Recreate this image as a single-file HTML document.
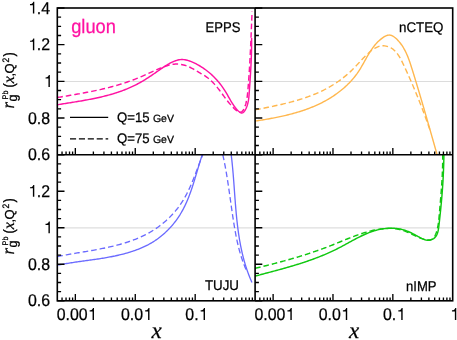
<!DOCTYPE html>
<html><head><meta charset="utf-8"><title>gluon nuclear modification</title>
<style>html,body{margin:0;padding:0;background:#fff;}body{width:457px;height:340px;overflow:hidden;font-family:"Liberation Sans",sans-serif;}svg{display:block;will-change:transform;text-rendering:geometricPrecision;}</style>
</head><body>
<svg width="457" height="340" viewBox="0 0 457 340">
<rect width="457" height="340" fill="#fff"/>
<defs>
<clipPath id="c0"><rect x="57.30" y="8.00" width="395.40" height="146.70"/></clipPath>
<clipPath id="c1"><rect x="57.30" y="154.70" width="395.40" height="146.10"/></clipPath>
</defs>
<g stroke="#dcdcdc" stroke-width="1" fill="none">
<path d="M57.30 81.50 H452.70"/>
<path d="M57.30 227.85 H452.70" stroke-width="1.3" stroke="#dedede"/>
</g>
<path clip-path="url(#c0)" d="M57.30 104.79 L58.48 104.60 L59.67 104.40 L60.86 104.21 L62.05 104.02 L63.24 103.83 L64.43 103.64 L65.62 103.45 L66.81 103.26 L68.00 103.07 L69.19 102.88 L70.39 102.68 L71.58 102.49 L72.77 102.30 L73.97 102.11 L75.16 101.91 L76.35 101.72 L77.55 101.52 L78.74 101.32 L79.94 101.12 L81.13 100.92 L82.32 100.71 L83.51 100.50 L84.70 100.29 L85.90 100.08 L87.09 99.86 L88.27 99.64 L89.46 99.41 L90.65 99.18 L91.84 98.95 L93.02 98.71 L94.20 98.47 L95.39 98.23 L96.57 97.98 L97.75 97.72 L98.93 97.46 L100.10 97.19 L101.28 96.92 L102.45 96.64 L103.62 96.36 L104.79 96.07 L105.95 95.77 L107.12 95.47 L108.28 95.16 L109.44 94.84 L110.60 94.51 L111.75 94.18 L112.90 93.84 L114.05 93.49 L115.20 93.14 L116.34 92.77 L117.48 92.40 L118.62 92.02 L119.76 91.63 L120.89 91.23 L122.02 90.82 L123.14 90.40 L124.26 89.97 L125.38 89.54 L126.50 89.09 L127.61 88.63 L128.71 88.16 L129.82 87.68 L130.92 87.19 L132.01 86.69 L133.10 86.18 L134.19 85.65 L135.27 85.12 L136.35 84.57 L137.42 84.01 L138.49 83.43 L139.56 82.85 L140.62 82.25 L141.67 81.65 L142.73 81.03 L143.77 80.40 L144.81 79.77 L145.85 79.12 L146.88 78.47 L147.91 77.81 L148.93 77.15 L149.95 76.48 L150.97 75.80 L151.98 75.13 L152.98 74.45 L153.98 73.76 L154.98 73.08 L155.97 72.39 L156.96 71.71 L157.94 71.02 L158.92 70.33 L159.89 69.65 L160.87 68.97 L161.85 68.30 L162.83 67.63 L163.82 66.97 L164.81 66.31 L165.82 65.67 L166.85 65.04 L167.88 64.41 L168.94 63.80 L170.01 63.21 L171.10 62.64 L172.20 62.10 L173.32 61.60 L174.45 61.13 L175.59 60.72 L176.74 60.35 L177.89 60.05 L179.05 59.81 L180.22 59.65 L181.39 59.56 L182.56 59.55 L183.73 59.62 L184.91 59.77 L186.07 59.98 L187.24 60.25 L188.40 60.58 L189.56 60.96 L190.71 61.39 L191.85 61.85 L192.98 62.35 L194.10 62.87 L195.21 63.41 L196.30 63.97 L197.38 64.55 L198.45 65.14 L199.51 65.75 L200.56 66.38 L201.59 67.03 L202.61 67.69 L203.61 68.36 L204.60 69.06 L205.58 69.77 L206.55 70.49 L207.50 71.23 L208.44 71.98 L209.37 72.75 L210.28 73.54 L211.18 74.33 L212.06 75.14 L212.94 75.97 L213.79 76.81 L214.64 77.66 L215.47 78.52 L216.29 79.40 L217.09 80.29 L217.88 81.19 L218.66 82.11 L219.42 83.03 L220.17 83.97 L220.90 84.92 L221.62 85.88 L222.33 86.85 L223.02 87.83 L223.69 88.82 L224.36 89.82 L225.01 90.84 L225.64 91.86 L226.26 92.89 L226.87 93.93 L227.47 94.97 L228.06 96.03 L228.65 97.08 L229.25 98.14 L229.84 99.19 L230.45 100.25 L231.07 101.30 L231.70 102.35 L232.36 103.40 L233.03 104.43 L233.73 105.46 L234.46 106.48 L235.21 107.48 L236.01 108.47 L236.84 109.45 L237.71 110.41 L238.62 111.30 L239.54 112.06 L240.45 112.63 L241.35 112.94 L242.22 112.92 L243.03 112.57 L243.80 111.94 L244.52 111.10 L245.18 110.09 L245.78 108.98 L246.32 107.83 L246.79 106.66 L247.20 105.48 L247.56 104.30 L247.87 103.11 L248.14 101.91 L248.37 100.71 L248.56 99.50 L248.72 98.30 L248.86 97.08 L248.97 95.87 L249.08 94.66 L249.17 93.44 L249.26 92.23 L249.34 91.02 L249.43 89.80 L249.51 88.59 L249.60 87.39 L249.68 86.18 L249.77 84.97 L249.85 83.77 L249.93 82.56 L250.01 81.36 L250.09 80.15 L250.17 78.95 L250.25 77.75 L250.33 76.55 L250.40 75.35 L250.48 74.15 L250.55 72.95 L250.62 71.75 L250.69 70.55 L250.76 69.35 L250.82 68.15 L250.89 66.95 L250.95 65.75 L251.01 64.55 L251.06 63.35 L251.12 62.15 L251.17 60.95 L251.22 59.75 L251.27 58.55 L251.31 57.35 L251.36 56.15 L251.40 54.94 L251.43 53.74 L251.47 52.54 L251.50 51.33 L251.52 50.12 L251.55 48.92 L251.57 47.71 L251.58 46.50 L251.60 45.29 L251.61 44.08 L251.61 42.87 L251.62 41.65 L251.61 40.44 L251.61 39.22 L251.60 38.00" fill="none" stroke="#ff12a2" stroke-width="1.45" stroke-linejoin="round"/>
<path clip-path="url(#c0)" d="M57.30 97.50 L58.49 97.30 L59.68 97.10 L60.87 96.91 L62.06 96.71 L63.25 96.52 L64.44 96.32 L65.63 96.12 L66.82 95.92 L68.01 95.72 L69.20 95.52 L70.39 95.32 L71.58 95.12 L72.77 94.91 L73.96 94.71 L75.16 94.50 L76.35 94.29 L77.54 94.08 L78.73 93.87 L79.92 93.65 L81.11 93.44 L82.30 93.22 L83.49 93.00 L84.68 92.78 L85.87 92.55 L87.05 92.32 L88.24 92.09 L89.43 91.86 L90.61 91.62 L91.80 91.38 L92.98 91.14 L94.17 90.89 L95.35 90.64 L96.53 90.39 L97.71 90.13 L98.89 89.87 L100.07 89.60 L101.25 89.34 L102.42 89.06 L103.60 88.79 L104.77 88.50 L105.94 88.22 L107.12 87.93 L108.28 87.63 L109.45 87.33 L110.62 87.03 L111.78 86.72 L112.95 86.40 L114.11 86.08 L115.27 85.76 L116.43 85.43 L117.58 85.09 L118.74 84.75 L119.89 84.40 L121.04 84.05 L122.19 83.69 L123.34 83.32 L124.48 82.95 L125.63 82.57 L126.77 82.19 L127.91 81.80 L129.04 81.40 L130.17 80.99 L131.31 80.58 L132.43 80.16 L133.56 79.74 L134.68 79.31 L135.81 78.86 L136.92 78.42 L138.04 77.96 L139.15 77.50 L140.27 77.03 L141.37 76.55 L142.48 76.07 L143.59 75.58 L144.69 75.09 L145.80 74.60 L146.90 74.11 L148.00 73.61 L149.11 73.11 L150.21 72.61 L151.32 72.12 L152.43 71.62 L153.53 71.13 L154.65 70.64 L155.76 70.16 L156.88 69.68 L158.00 69.20 L159.12 68.73 L160.25 68.27 L161.38 67.82 L162.51 67.38 L163.65 66.94 L164.80 66.52 L165.95 66.12 L167.10 65.73 L168.26 65.38 L169.43 65.05 L170.60 64.76 L171.77 64.52 L172.94 64.32 L174.12 64.17 L175.31 64.08 L176.49 64.04 L177.68 64.07 L178.87 64.15 L180.05 64.28 L181.24 64.46 L182.41 64.69 L183.59 64.97 L184.75 65.29 L185.90 65.66 L187.04 66.06 L188.17 66.51 L189.29 66.99 L190.39 67.51 L191.48 68.05 L192.56 68.62 L193.63 69.21 L194.70 69.81 L195.75 70.43 L196.79 71.05 L197.84 71.68 L198.87 72.31 L199.90 72.93 L200.93 73.55 L201.96 74.15 L202.99 74.75 L204.01 75.35 L205.01 75.96 L206.01 76.61 L206.99 77.29 L207.95 78.02 L208.89 78.77 L209.82 79.56 L210.73 80.38 L211.62 81.22 L212.50 82.09 L213.36 82.97 L214.20 83.88 L215.03 84.80 L215.84 85.73 L216.64 86.68 L217.42 87.63 L218.18 88.58 L218.93 89.54 L219.67 90.49 L220.38 91.44 L221.09 92.39 L221.78 93.33 L222.47 94.27 L223.15 95.20 L223.83 96.14 L224.51 97.07 L225.20 98.01 L225.90 98.94 L226.61 99.87 L227.34 100.81 L228.09 101.75 L228.86 102.70 L229.65 103.64 L230.47 104.60 L231.33 105.56 L232.22 106.52 L233.15 107.50 L234.12 108.48 L235.13 109.42 L236.15 110.29 L237.19 111.04 L238.23 111.62 L239.26 112.00 L240.26 112.13 L241.18 111.99 L242.01 111.57 L242.73 110.90 L243.37 110.04 L243.93 109.02 L244.43 107.92 L244.88 106.76 L245.28 105.59 L245.64 104.41 L245.97 103.23 L246.26 102.04 L246.52 100.85 L246.75 99.65 L246.95 98.45 L247.13 97.25 L247.29 96.04 L247.44 94.83 L247.57 93.62 L247.69 92.41 L247.80 91.20 L247.90 89.99 L248.00 88.78 L248.10 87.57 L248.20 86.36 L248.30 85.15 L248.39 83.94 L248.48 82.73 L248.57 81.52 L248.66 80.32 L248.75 79.11 L248.84 77.90 L248.92 76.69 L249.00 75.49 L249.08 74.28 L249.16 73.08 L249.24 71.87 L249.32 70.67 L249.39 69.46 L249.47 68.26 L249.54 67.06 L249.61 65.85 L249.68 64.65 L249.75 63.45 L249.82 62.24 L249.88 61.04 L249.95 59.84 L250.01 58.63 L250.08 57.43 L250.14 56.23 L250.20 55.03 L250.26 53.82 L250.32 52.62 L250.38 51.42 L250.44 50.22 L250.50 49.01 L250.55 47.81 L250.61 46.61 L250.67 45.41 L250.72 44.20 L250.77 43.00 L250.83 41.80 L250.88 40.59 L250.93 39.39 L250.99 38.19 L251.04 36.98 L251.09 35.78 L251.14 34.57 L251.19 33.37 L251.24 32.16 L251.29 30.96 L251.34 29.75 L251.39 28.54 L251.44 27.34 L251.49 26.13 L251.54 24.92 L251.59 23.71 L251.64 22.50 L251.69 21.29 L251.74 20.09 L251.79 18.87 L251.84 17.66 L251.89 16.45 L251.94 15.24 L252.00 14.03 L252.05 12.81 L252.10 11.60" fill="none" stroke="#ff12a2" stroke-width="1.45" stroke-linejoin="round" stroke-dasharray="5.6 3.0"/>
<path clip-path="url(#c0)" d="M255.10 121.10 L256.29 120.91 L257.48 120.73 L258.67 120.54 L259.86 120.35 L261.05 120.16 L262.24 119.96 L263.43 119.77 L264.62 119.57 L265.82 119.36 L267.01 119.16 L268.20 118.95 L269.39 118.73 L270.58 118.52 L271.77 118.30 L272.96 118.07 L274.15 117.84 L275.34 117.61 L276.53 117.38 L277.72 117.13 L278.90 116.89 L280.09 116.64 L281.27 116.38 L282.45 116.12 L283.63 115.85 L284.81 115.58 L285.99 115.31 L287.17 115.02 L288.34 114.73 L289.51 114.44 L290.68 114.14 L291.85 113.83 L293.01 113.51 L294.18 113.19 L295.34 112.87 L296.50 112.53 L297.65 112.19 L298.80 111.84 L299.95 111.48 L301.10 111.12 L302.25 110.74 L303.39 110.36 L304.52 109.97 L305.66 109.58 L306.79 109.17 L307.91 108.76 L309.04 108.33 L310.16 107.90 L311.27 107.46 L312.38 107.01 L313.49 106.55 L314.60 106.08 L315.70 105.60 L316.79 105.11 L317.88 104.62 L318.97 104.11 L320.05 103.59 L321.12 103.06 L322.19 102.52 L323.26 101.97 L324.32 101.40 L325.38 100.83 L326.43 100.24 L327.47 99.65 L328.51 99.04 L329.55 98.42 L330.58 97.79 L331.60 97.15 L332.62 96.49 L333.63 95.82 L334.63 95.14 L335.63 94.45 L336.62 93.75 L337.60 93.03 L338.57 92.30 L339.54 91.56 L340.50 90.81 L341.44 90.04 L342.38 89.27 L343.31 88.48 L344.23 87.68 L345.14 86.87 L346.03 86.05 L346.92 85.22 L347.79 84.37 L348.65 83.51 L349.50 82.64 L350.34 81.76 L351.16 80.87 L351.97 79.97 L352.77 79.06 L353.55 78.13 L354.32 77.19 L355.07 76.25 L355.81 75.29 L356.53 74.32 L357.24 73.34 L357.93 72.34 L358.60 71.34 L359.26 70.33 L359.91 69.31 L360.54 68.28 L361.16 67.24 L361.77 66.20 L362.38 65.15 L362.98 64.10 L363.57 63.04 L364.16 61.99 L364.75 60.93 L365.34 59.87 L365.93 58.82 L366.52 57.77 L367.12 56.72 L367.72 55.67 L368.33 54.63 L368.95 53.60 L369.57 52.58 L370.21 51.56 L370.87 50.56 L371.54 49.56 L372.22 48.58 L372.92 47.61 L373.64 46.65 L374.39 45.71 L375.15 44.78 L375.94 43.87 L376.75 42.98 L377.59 42.11 L378.46 41.26 L379.36 40.43 L380.29 39.62 L381.25 38.84 L382.25 38.08 L383.27 37.36 L384.33 36.69 L385.40 36.11 L386.48 35.63 L387.57 35.28 L388.66 35.09 L389.74 35.07 L390.80 35.25 L391.85 35.60 L392.87 36.10 L393.87 36.72 L394.85 37.45 L395.79 38.25 L396.71 39.11 L397.58 40.00 L398.43 40.91 L399.24 41.84 L400.01 42.78 L400.76 43.74 L401.47 44.72 L402.16 45.72 L402.81 46.73 L403.44 47.75 L404.05 48.79 L404.63 49.84 L405.19 50.91 L405.73 51.98 L406.24 53.07 L406.74 54.17 L407.22 55.27 L407.68 56.38 L408.13 57.51 L408.57 58.64 L408.99 59.77 L409.40 60.91 L409.79 62.06 L410.18 63.21 L410.57 64.36 L410.94 65.52 L411.31 66.68 L411.68 67.84 L412.04 69.00 L412.40 70.16 L412.76 71.32 L413.12 72.48 L413.48 73.64 L413.84 74.80 L414.20 75.96 L414.55 77.12 L414.91 78.27 L415.26 79.43 L415.61 80.59 L415.96 81.75 L416.31 82.90 L416.66 84.06 L417.01 85.22 L417.36 86.37 L417.71 87.53 L418.06 88.68 L418.40 89.84 L418.75 90.99 L419.09 92.15 L419.44 93.30 L419.78 94.46 L420.12 95.61 L420.46 96.77 L420.80 97.92 L421.15 99.08 L421.48 100.23 L421.82 101.39 L422.16 102.54 L422.50 103.69 L422.84 104.85 L423.18 106.00 L423.51 107.16 L423.85 108.31 L424.18 109.47 L424.52 110.62 L424.85 111.78 L425.19 112.93 L425.52 114.09 L425.86 115.24 L426.19 116.40 L426.52 117.55 L426.86 118.71 L427.19 119.86 L427.52 121.02 L427.85 122.17 L428.18 123.33 L428.51 124.49 L428.84 125.64 L429.18 126.80 L429.51 127.96 L429.84 129.12 L430.17 130.28 L430.50 131.43 L430.83 132.59 L431.16 133.75 L431.49 134.91 L431.82 136.07 L432.15 137.23 L432.48 138.39 L432.81 139.56 L433.14 140.72 L433.47 141.88 L433.80 143.04 L434.13 144.21 L434.46 145.37 L434.79 146.53 L435.12 147.70 L435.45 148.86 L435.78 150.03 L436.11 151.20 L436.44 152.36 L436.77 153.53 L437.10 154.70" fill="none" stroke="#ffb74e" stroke-width="1.40" stroke-linejoin="round"/>
<path clip-path="url(#c0)" d="M255.10 109.90 L256.28 109.67 L257.45 109.43 L258.63 109.20 L259.80 108.96 L260.98 108.72 L262.16 108.49 L263.34 108.25 L264.52 108.01 L265.70 107.77 L266.89 107.53 L268.07 107.29 L269.25 107.05 L270.43 106.80 L271.62 106.56 L272.80 106.31 L273.98 106.05 L275.16 105.80 L276.34 105.54 L277.53 105.28 L278.71 105.02 L279.89 104.75 L281.07 104.48 L282.24 104.21 L283.42 103.93 L284.60 103.65 L285.77 103.36 L286.95 103.07 L288.12 102.78 L289.29 102.48 L290.46 102.17 L291.63 101.86 L292.80 101.54 L293.96 101.22 L295.12 100.90 L296.28 100.56 L297.44 100.22 L298.60 99.88 L299.75 99.53 L300.90 99.17 L302.05 98.80 L303.20 98.43 L304.34 98.05 L305.48 97.66 L306.62 97.27 L307.76 96.86 L308.89 96.45 L310.02 96.03 L311.14 95.61 L312.26 95.17 L313.38 94.72 L314.49 94.27 L315.60 93.81 L316.71 93.34 L317.81 92.85 L318.91 92.36 L320.01 91.86 L321.10 91.35 L322.19 90.83 L323.27 90.30 L324.34 89.75 L325.42 89.20 L326.48 88.63 L327.55 88.06 L328.60 87.47 L329.66 86.88 L330.70 86.27 L331.74 85.65 L332.78 85.02 L333.80 84.38 L334.83 83.73 L335.84 83.07 L336.85 82.40 L337.85 81.72 L338.84 81.03 L339.82 80.33 L340.80 79.61 L341.76 78.89 L342.72 78.16 L343.67 77.42 L344.61 76.66 L345.55 75.90 L346.47 75.13 L347.38 74.34 L348.28 73.55 L349.18 72.75 L350.06 71.94 L350.93 71.12 L351.79 70.28 L352.64 69.44 L353.48 68.59 L354.31 67.74 L355.14 66.87 L355.96 66.00 L356.77 65.13 L357.59 64.25 L358.40 63.37 L359.22 62.49 L360.04 61.60 L360.86 60.72 L361.69 59.84 L362.52 58.96 L363.36 58.08 L364.22 57.21 L365.08 56.34 L365.95 55.47 L366.84 54.62 L367.75 53.77 L368.67 52.93 L369.61 52.10 L370.56 51.29 L371.54 50.51 L372.53 49.77 L373.55 49.07 L374.58 48.41 L375.63 47.81 L376.70 47.28 L377.80 46.82 L378.91 46.43 L380.04 46.13 L381.20 45.92 L382.37 45.81 L383.56 45.81 L384.75 45.89 L385.94 46.07 L387.11 46.33 L388.25 46.67 L389.35 47.08 L390.40 47.57 L391.41 48.13 L392.37 48.75 L393.28 49.43 L394.16 50.17 L394.99 50.96 L395.79 51.80 L396.55 52.68 L397.28 53.61 L397.98 54.57 L398.66 55.57 L399.31 56.60 L399.93 57.65 L400.54 58.73 L401.13 59.83 L401.70 60.94 L402.26 62.07 L402.81 63.20 L403.35 64.33 L403.89 65.47 L404.42 66.61 L404.95 67.74 L405.47 68.87 L405.99 69.99 L406.50 71.12 L407.01 72.24 L407.52 73.36 L408.03 74.48 L408.53 75.59 L409.02 76.71 L409.52 77.82 L410.01 78.93 L410.50 80.04 L410.98 81.15 L411.46 82.25 L411.94 83.36 L412.41 84.46 L412.89 85.57 L413.36 86.67 L413.82 87.77 L414.29 88.87 L414.75 89.97 L415.21 91.08 L415.66 92.18 L416.11 93.28 L416.57 94.38 L417.01 95.48 L417.46 96.58 L417.90 97.68 L418.35 98.78 L418.79 99.89 L419.22 100.99 L419.66 102.09 L420.09 103.20 L420.53 104.31 L420.96 105.41 L421.39 106.52 L421.81 107.63 L422.24 108.75 L422.66 109.86 L423.08 110.97 L423.51 112.09 L423.93 113.21 L424.34 114.33 L424.76 115.46 L425.18 116.58 L425.59 117.71 L426.01 118.84 L426.42 119.98 L426.83 121.12 L427.24 122.26 L427.65 123.40 L428.06 124.55 L428.47 125.70 L428.88 126.85 L429.29 128.01 L429.69 129.17 L430.10 130.33 L430.51 131.50" fill="none" stroke="#ffb74e" stroke-width="1.40" stroke-linejoin="round" stroke-dasharray="5.6 3.0"/>
<path clip-path="url(#c1)" d="M57.30 265.20 L58.48 264.97 L59.65 264.74 L60.83 264.52 L62.01 264.30 L63.19 264.09 L64.37 263.88 L65.56 263.68 L66.74 263.48 L67.93 263.29 L69.12 263.10 L70.31 262.91 L71.50 262.73 L72.69 262.55 L73.88 262.37 L75.07 262.20 L76.27 262.02 L77.47 261.85 L78.66 261.68 L79.86 261.52 L81.06 261.35 L82.26 261.18 L83.46 261.02 L84.66 260.85 L85.86 260.69 L87.06 260.52 L88.26 260.36 L89.46 260.19 L90.66 260.02 L91.86 259.86 L93.07 259.69 L94.27 259.51 L95.47 259.34 L96.67 259.16 L97.88 258.98 L99.08 258.80 L100.28 258.61 L101.48 258.42 L102.68 258.23 L103.88 258.03 L105.08 257.83 L106.28 257.62 L107.48 257.41 L108.68 257.20 L109.88 256.97 L111.08 256.75 L112.27 256.51 L113.47 256.27 L114.66 256.03 L115.86 255.77 L117.05 255.51 L118.24 255.25 L119.43 254.97 L120.62 254.69 L121.81 254.40 L122.99 254.10 L124.17 253.79 L125.35 253.47 L126.53 253.14 L127.70 252.81 L128.88 252.46 L130.04 252.10 L131.20 251.74 L132.36 251.36 L133.52 250.97 L134.66 250.58 L135.81 250.17 L136.95 249.74 L138.08 249.31 L139.20 248.86 L140.32 248.41 L141.44 247.94 L142.54 247.45 L143.64 246.95 L144.73 246.44 L145.81 245.92 L146.89 245.38 L147.96 244.83 L149.01 244.26 L150.06 243.68 L151.10 243.08 L152.13 242.47 L153.15 241.84 L154.16 241.20 L155.16 240.55 L156.15 239.87 L157.13 239.19 L158.10 238.49 L159.06 237.77 L160.01 237.04 L160.94 236.30 L161.87 235.54 L162.79 234.77 L163.69 233.99 L164.58 233.19 L165.47 232.38 L166.34 231.56 L167.20 230.73 L168.05 229.88 L168.88 229.02 L169.71 228.15 L170.52 227.27 L171.32 226.37 L172.11 225.47 L172.88 224.55 L173.65 223.62 L174.40 222.69 L175.14 221.74 L175.86 220.78 L176.57 219.81 L177.27 218.83 L177.96 217.83 L178.63 216.83 L179.29 215.82 L179.94 214.81 L180.57 213.78 L181.19 212.74 L181.80 211.69 L182.39 210.64 L182.97 209.57 L183.54 208.50 L184.09 207.42 L184.63 206.34 L185.16 205.24 L185.67 204.14 L186.18 203.04 L186.68 201.92 L187.16 200.80 L187.64 199.68 L188.10 198.55 L188.56 197.41 L189.00 196.27 L189.44 195.13 L189.87 193.98 L190.29 192.83 L190.71 191.67 L191.12 190.52 L191.52 189.35 L191.91 188.19 L192.30 187.02 L192.68 185.86 L193.06 184.69 L193.44 183.52 L193.80 182.34 L194.17 181.17 L194.53 180.00 L194.89 178.82 L195.24 177.65 L195.59 176.48 L195.94 175.31 L196.29 174.14 L196.64 172.97 L196.98 171.80 L197.33 170.63 L197.67 169.47 L198.02 168.31 L198.36 167.15 L198.71 166.00 L199.06 164.85 L199.40 163.70 L199.75 162.56 L200.11 161.42 L200.46 160.29 L200.82 159.16 L201.18 158.04 L201.55 156.92 L201.92 155.81 L202.29 154.70" fill="none" stroke="#6a6aff" stroke-width="1.32" stroke-linejoin="round"/>
<path clip-path="url(#c1)" d="M57.31 256.61 L58.46 256.37 L59.61 256.14 L60.76 255.91 L61.92 255.69 L63.09 255.47 L64.25 255.25 L65.42 255.03 L66.60 254.82 L67.77 254.61 L68.95 254.40 L70.13 254.19 L71.32 253.98 L72.50 253.78 L73.69 253.57 L74.88 253.37 L76.08 253.17 L77.27 252.97 L78.47 252.77 L79.67 252.57 L80.87 252.36 L82.07 252.16 L83.27 251.96 L84.47 251.76 L85.68 251.55 L86.89 251.35 L88.09 251.14 L89.30 250.93 L90.51 250.72 L91.71 250.51 L92.92 250.29 L94.13 250.08 L95.34 249.86 L96.54 249.64 L97.75 249.41 L98.96 249.18 L100.16 248.95 L101.37 248.71 L102.57 248.47 L103.78 248.23 L104.98 247.98 L106.18 247.72 L107.38 247.47 L108.57 247.20 L109.77 246.93 L110.96 246.66 L112.16 246.38 L113.35 246.09 L114.53 245.80 L115.72 245.50 L116.90 245.20 L118.08 244.89 L119.25 244.57 L120.43 244.25 L121.60 243.91 L122.77 243.57 L123.93 243.22 L125.09 242.87 L126.25 242.50 L127.40 242.13 L128.55 241.75 L129.69 241.36 L130.83 240.96 L131.97 240.55 L133.10 240.13 L134.22 239.71 L135.35 239.27 L136.46 238.82 L137.58 238.36 L138.68 237.89 L139.78 237.41 L140.88 236.92 L141.97 236.42 L143.05 235.91 L144.13 235.38 L145.20 234.85 L146.27 234.30 L147.33 233.74 L148.38 233.16 L149.43 232.58 L150.47 231.98 L151.51 231.37 L152.53 230.74 L153.55 230.10 L154.56 229.45 L155.57 228.79 L156.56 228.11 L157.55 227.42 L158.53 226.72 L159.50 226.00 L160.47 225.28 L161.42 224.54 L162.37 223.79 L163.30 223.02 L164.23 222.25 L165.15 221.46 L166.05 220.66 L166.95 219.85 L167.84 219.03 L168.71 218.19 L169.58 217.35 L170.43 216.49 L171.27 215.63 L172.11 214.75 L172.93 213.86 L173.74 212.96 L174.53 212.05 L175.32 211.13 L176.09 210.20 L176.85 209.26 L177.60 208.31 L178.33 207.34 L179.05 206.37 L179.76 205.39 L180.45 204.40 L181.13 203.40 L181.80 202.39 L182.45 201.37 L183.09 200.34 L183.72 199.31 L184.33 198.26 L184.93 197.21 L185.52 196.15 L186.10 195.08 L186.67 194.01 L187.22 192.92 L187.77 191.84 L188.30 190.74 L188.83 189.65 L189.35 188.54 L189.86 187.43 L190.36 186.32 L190.85 185.20 L191.33 184.08 L191.81 182.96 L192.29 181.83 L192.75 180.70 L193.21 179.56 L193.67 178.43 L194.11 177.29 L194.56 176.15 L195.00 175.01 L195.44 173.87 L195.87 172.73 L196.30 171.59 L196.73 170.45 L197.16 169.31 L197.58 168.17 L198.01 167.03 L198.43 165.90 L198.85 164.76 L199.27 163.63 L199.70 162.50 L200.12 161.38 L200.54 160.25 L200.97 159.13 L201.40 158.02 L201.83 156.91 L202.26 155.80 L202.70 154.70" fill="none" stroke="#6a6aff" stroke-width="1.32" stroke-linejoin="round" stroke-dasharray="5.6 3.0"/>
<path clip-path="url(#c1)" d="M231.20 154.70 L231.34 155.90 L231.49 157.10 L231.63 158.30 L231.76 159.50 L231.90 160.70 L232.02 161.90 L232.15 163.11 L232.27 164.31 L232.39 165.52 L232.51 166.73 L232.62 167.94 L232.73 169.15 L232.84 170.36 L232.95 171.57 L233.05 172.78 L233.16 173.99 L233.26 175.21 L233.35 176.42 L233.45 177.63 L233.55 178.85 L233.64 180.07 L233.73 181.28 L233.83 182.50 L233.92 183.72 L234.01 184.93 L234.10 186.15 L234.19 187.37 L234.27 188.59 L234.36 189.81 L234.45 191.03 L234.54 192.25 L234.63 193.47 L234.72 194.69 L234.81 195.91 L234.90 197.13 L234.99 198.35 L235.08 199.57 L235.17 200.78 L235.27 202.00 L235.36 203.22 L235.46 204.44 L235.56 205.66 L235.66 206.88 L235.76 208.10 L235.86 209.32 L235.97 210.53 L236.08 211.75 L236.19 212.97 L236.30 214.19 L236.42 215.40 L236.53 216.62 L236.66 217.83 L236.78 219.04 L236.91 220.26 L237.04 221.47 L237.18 222.68 L237.31 223.89 L237.46 225.10 L237.60 226.31 L237.75 227.52 L237.91 228.73 L238.07 229.94 L238.23 231.14 L238.40 232.35 L238.57 233.55 L238.75 234.75 L238.93 235.95 L239.12 237.15 L239.31 238.35 L239.51 239.55 L239.72 240.74 L239.93 241.94 L240.15 243.13 L240.37 244.32 L240.60 245.51 L240.83 246.70 L241.07 247.89 L241.32 249.08 L241.57 250.26 L241.84 251.44 L242.10 252.62 L242.38 253.80 L242.66 254.98 L242.95 256.15 L243.25 257.33 L243.56 258.50 L243.87 259.67 L244.19 260.84 L244.52 262.00 L244.86 263.17 L245.20 264.33 L245.56 265.49 L245.92 266.65 L246.29 267.80 L246.67 268.95 L247.06 270.10 L247.46 271.25 L247.87 272.40 L248.29 273.54 L248.72 274.68 L249.16 275.82 L249.60 276.96 L250.06 278.09 L250.53 279.22 L251.01 280.35 L251.50 281.48 L252.00 282.60" fill="none" stroke="#6a6aff" stroke-width="1.32" stroke-linejoin="round"/>
<path clip-path="url(#c1)" d="M222.80 154.70 L223.06 155.89 L223.32 157.08 L223.58 158.28 L223.83 159.47 L224.07 160.66 L224.32 161.86 L224.55 163.06 L224.79 164.26 L225.02 165.45 L225.24 166.65 L225.46 167.86 L225.68 169.06 L225.89 170.26 L226.10 171.46 L226.31 172.67 L226.52 173.87 L226.72 175.08 L226.91 176.28 L227.11 177.49 L227.30 178.70 L227.49 179.91 L227.68 181.12 L227.87 182.33 L228.05 183.54 L228.24 184.75 L228.42 185.96 L228.60 187.17 L228.77 188.38 L228.95 189.59 L229.12 190.81 L229.30 192.02 L229.47 193.23 L229.64 194.44 L229.81 195.66 L229.98 196.87 L230.16 198.08 L230.33 199.30 L230.50 200.51 L230.67 201.72 L230.84 202.94 L231.01 204.15 L231.18 205.37 L231.35 206.58 L231.52 207.79 L231.69 209.01 L231.87 210.22 L232.04 211.43 L232.22 212.64 L232.40 213.86 L232.58 215.07 L232.76 216.28 L232.94 217.49 L233.13 218.70 L233.31 219.91 L233.50 221.12 L233.69 222.33 L233.89 223.54 L234.08 224.75 L234.28 225.95 L234.48 227.16 L234.69 228.37 L234.90 229.57 L235.11 230.78 L235.33 231.98 L235.55 233.18 L235.77 234.38 L236.00 235.58 L236.24 236.78 L236.48 237.97 L236.73 239.17 L236.98 240.36 L237.24 241.55 L237.50 242.74 L237.77 243.93 L238.05 245.12 L238.34 246.30 L238.63 247.48 L238.93 248.66 L239.24 249.84 L239.56 251.01 L239.89 252.18 L240.22 253.35 L240.56 254.52 L240.92 255.68 L241.28 256.84 L241.65 258.00 L242.04 259.15 L242.43 260.30 L242.83 261.45 L243.25 262.60 L243.68 263.74 L244.11 264.88 L244.56 266.01 L245.02 267.14 L245.50 268.27 L245.98 269.39 L246.48 270.51" fill="none" stroke="#6a6aff" stroke-width="1.32" stroke-linejoin="round" stroke-dasharray="5.6 3.0"/>
<path clip-path="url(#c1)" d="M255.10 276.11 L256.26 275.79 L257.43 275.48 L258.59 275.18 L259.76 274.87 L260.92 274.56 L262.08 274.25 L263.25 273.94 L264.42 273.63 L265.58 273.32 L266.75 273.02 L267.91 272.71 L269.08 272.40 L270.24 272.09 L271.41 271.78 L272.58 271.47 L273.74 271.15 L274.91 270.84 L276.07 270.53 L277.24 270.21 L278.40 269.89 L279.56 269.58 L280.73 269.26 L281.89 268.93 L283.05 268.61 L284.21 268.28 L285.38 267.96 L286.54 267.63 L287.70 267.30 L288.86 266.96 L290.01 266.63 L291.17 266.29 L292.33 265.94 L293.48 265.60 L294.64 265.25 L295.79 264.90 L296.94 264.55 L298.10 264.19 L299.25 263.83 L300.39 263.47 L301.54 263.10 L302.69 262.73 L303.83 262.35 L304.98 261.97 L306.12 261.59 L307.26 261.20 L308.40 260.81 L309.53 260.42 L310.67 260.02 L311.80 259.61 L312.93 259.20 L314.06 258.79 L315.19 258.37 L316.32 257.94 L317.44 257.51 L318.57 257.08 L319.69 256.64 L320.80 256.19 L321.92 255.74 L323.03 255.28 L324.15 254.82 L325.25 254.35 L326.36 253.87 L327.47 253.39 L328.57 252.91 L329.67 252.41 L330.77 251.91 L331.86 251.40 L332.95 250.89 L334.04 250.37 L335.13 249.84 L336.21 249.30 L337.29 248.76 L338.37 248.21 L339.45 247.66 L340.52 247.09 L341.59 246.52 L342.66 245.95 L343.72 245.37 L344.79 244.79 L345.85 244.21 L346.92 243.62 L347.98 243.04 L349.04 242.45 L350.11 241.87 L351.17 241.29 L352.23 240.71 L353.30 240.13 L354.36 239.56 L355.43 238.99 L356.50 238.43 L357.57 237.87 L358.64 237.32 L359.72 236.78 L360.80 236.25 L361.88 235.73 L362.97 235.22 L364.06 234.72 L365.15 234.24 L366.25 233.76 L367.35 233.30 L368.46 232.86 L369.57 232.43 L370.69 232.01 L371.82 231.62 L372.95 231.24 L374.09 230.88 L375.23 230.54 L376.38 230.21 L377.54 229.92 L378.70 229.64 L379.88 229.38 L381.06 229.15 L382.25 228.94 L383.44 228.76 L384.64 228.61 L385.85 228.47 L387.06 228.37 L388.27 228.29 L389.48 228.24 L390.69 228.21 L391.91 228.22 L393.11 228.25 L394.32 228.31 L395.52 228.41 L396.72 228.53 L397.91 228.68 L399.09 228.87 L400.27 229.08 L401.44 229.33 L402.59 229.61 L403.74 229.93 L404.87 230.28 L405.99 230.66 L407.10 231.07 L408.21 231.51 L409.31 231.98 L410.41 232.47 L411.50 232.99 L412.60 233.53 L413.70 234.10 L414.80 234.68 L415.90 235.29 L417.02 235.91 L418.14 236.54 L419.27 237.17 L420.40 237.78 L421.54 238.37 L422.68 238.90 L423.82 239.37 L424.96 239.76 L426.10 240.06 L427.24 240.24 L428.37 240.30 L429.49 240.23 L430.60 240.00 L431.68 239.65 L432.70 239.17 L433.67 238.57 L434.55 237.88 L435.33 237.08 L436.01 236.20 L436.59 235.25 L437.08 234.22 L437.49 233.14 L437.83 232.00 L438.12 230.83 L438.35 229.61 L438.55 228.38 L438.73 227.13 L438.88 225.86 L439.03 224.60 L439.17 223.35 L439.31 222.10 L439.45 220.85 L439.59 219.61 L439.73 218.38 L439.86 217.15 L440.00 215.92 L440.13 214.70 L440.26 213.48 L440.38 212.27 L440.51 211.06 L440.63 209.85 L440.75 208.65 L440.87 207.45 L440.99 206.25 L441.10 205.05 L441.22 203.86 L441.33 202.67 L441.44 201.48 L441.54 200.30 L441.65 199.11 L441.75 197.93 L441.85 196.74 L441.95 195.56 L442.04 194.38 L442.14 193.20 L442.23 192.02 L442.32 190.85 L442.40 189.67 L442.49 188.49 L442.57 187.31 L442.65 186.13 L442.73 184.95 L442.81 183.77 L442.88 182.59 L442.95 181.41 L443.02 180.22 L443.09 179.04 L443.15 177.85 L443.21 176.66 L443.27 175.47 L443.33 174.27 L443.38 173.08 L443.43 171.88 L443.48 170.68 L443.53 169.47 L443.57 168.26 L443.62 167.05 L443.66 165.84 L443.69 164.62 L443.73 163.39 L443.76 162.17 L443.79 160.93 L443.82 159.70 L443.84 158.45 L443.86 157.21 L443.88 155.96 L443.90 154.70" fill="none" stroke="#10c810" stroke-width="1.45" stroke-linejoin="round"/>
<path clip-path="url(#c1)" d="M255.10 268.31 L256.28 268.02 L257.46 267.74 L258.64 267.45 L259.82 267.17 L261.00 266.88 L262.18 266.59 L263.36 266.30 L264.53 266.01 L265.71 265.72 L266.88 265.43 L268.05 265.13 L269.23 264.84 L270.40 264.54 L271.57 264.24 L272.74 263.94 L273.91 263.64 L275.08 263.33 L276.25 263.03 L277.41 262.72 L278.58 262.41 L279.75 262.10 L280.91 261.79 L282.07 261.47 L283.24 261.16 L284.40 260.84 L285.56 260.52 L286.72 260.19 L287.88 259.87 L289.04 259.54 L290.20 259.21 L291.36 258.88 L292.51 258.54 L293.67 258.20 L294.82 257.86 L295.98 257.52 L297.13 257.18 L298.28 256.83 L299.44 256.48 L300.59 256.13 L301.74 255.77 L302.89 255.41 L304.03 255.05 L305.18 254.69 L306.33 254.32 L307.47 253.95 L308.62 253.58 L309.76 253.20 L310.91 252.82 L312.05 252.44 L313.19 252.06 L314.33 251.67 L315.48 251.27 L316.62 250.88 L317.75 250.48 L318.89 250.08 L320.03 249.67 L321.17 249.26 L322.30 248.85 L323.44 248.43 L324.57 248.01 L325.70 247.58 L326.84 247.16 L327.97 246.72 L329.10 246.29 L330.23 245.85 L331.36 245.40 L332.49 244.96 L333.61 244.50 L334.74 244.05 L335.87 243.59 L337.00 243.13 L338.12 242.67 L339.25 242.21 L340.37 241.75 L341.50 241.28 L342.62 240.82 L343.75 240.36 L344.88 239.90 L346.00 239.44 L347.13 238.99 L348.26 238.53 L349.39 238.08 L350.52 237.64 L351.65 237.20 L352.78 236.76 L353.91 236.33 L355.04 235.90 L356.18 235.49 L357.31 235.07 L358.45 234.67 L359.59 234.27 L360.73 233.88 L361.87 233.50 L363.02 233.13 L364.16 232.77 L365.31 232.43 L366.46 232.09 L367.62 231.76 L368.77 231.44 L369.93 231.14 L371.09 230.85 L372.25 230.57 L373.42 230.31 L374.59 230.06 L375.76 229.83 L376.93 229.61 L378.11 229.41 L379.29 229.22 L380.48 229.05 L381.67 228.90 L382.86 228.76 L384.05 228.65 L385.25 228.55 L386.46 228.47 L387.66 228.41 L388.87 228.38 L390.09 228.36 L391.30 228.37 L392.52 228.41 L393.73 228.49 L394.94 228.60 L396.14 228.75 L397.34 228.94 L398.53 229.18 L399.70 229.46 L400.87 229.78 L402.03 230.13 L403.18 230.52 L404.33 230.94 L405.46 231.38 L406.59 231.84 L407.70 232.33 L408.81 232.82 L409.92 233.33 L411.01 233.84 L412.10 234.36 L413.18 234.88 L414.27 235.39 L415.36 235.90 L416.46 236.40 L417.57 236.88 L418.69 237.35 L419.83 237.79 L420.99 238.22 L422.17 238.61 L423.38 238.98 L424.61 239.31 L425.85 239.59 L427.09 239.79 L428.31 239.89 L429.48 239.88 L430.58 239.72 L431.61 239.41 L432.53 238.90 L433.34 238.21 L434.05 237.36 L434.67 236.38 L435.22 235.30 L435.70 234.16 L436.14 232.98 L436.53 231.79 L436.88 230.60 L437.20 229.40 L437.49 228.21 L437.74 227.01 L437.97 225.81 L438.18 224.61 L438.36 223.41 L438.53 222.21 L438.68 221.00 L438.81 219.80 L438.94 218.59 L439.05 217.39 L439.16 216.18 L439.26 214.98 L439.36 213.77 L439.46 212.57 L439.57 211.36 L439.67 210.16 L439.77 208.95 L439.87 207.75 L439.98 206.55 L440.08 205.34 L440.18 204.14 L440.29 202.94 L440.39 201.74 L440.49 200.53 L440.59 199.33 L440.69 198.13 L440.79 196.93 L440.88 195.73 L440.98 194.53 L441.08 193.32 L441.17 192.12 L441.26 190.92 L441.35 189.72 L441.44 188.52 L441.53 187.31 L441.61 186.11 L441.69 184.91 L441.77 183.71 L441.85 182.50 L441.93 181.30 L442.00 180.10 L442.07 178.89 L442.14 177.69 L442.20 176.48 L442.26 175.28 L442.32 174.07 L442.37 172.87 L442.42 171.66 L442.47 170.45 L442.51 169.25 L442.55 168.04 L442.59 166.83 L442.62 165.62 L442.65 164.41 L442.67 163.20 L442.69 161.99 L442.70 160.77 L442.71 159.56 L442.72 158.35 L442.72 157.13 L442.71 155.92 L442.70 154.70" fill="none" stroke="#10c810" stroke-width="1.45" stroke-linejoin="round" stroke-dasharray="5.6 3.0"/>
<g stroke="#000" fill="none" stroke-width="1.6">
<rect x="57.30" y="8.00" width="395.40" height="292.80"/>
<path d="M57.30 154.70 H452.70 M255.10 8.00 V300.80"/>
</g>
<path d="M57.30 154.70 h7.20 M255.10 154.70 h7.20 M57.30 145.53 h3.80 M255.10 145.53 h3.80 M57.30 136.36 h3.80 M255.10 136.36 h3.80 M57.30 127.19 h3.80 M255.10 127.19 h3.80 M57.30 118.02 h7.20 M255.10 118.02 h7.20 M57.30 108.86 h3.80 M255.10 108.86 h3.80 M57.30 99.69 h3.80 M255.10 99.69 h3.80 M57.30 90.52 h3.80 M255.10 90.52 h3.80 M57.30 81.35 h7.20 M255.10 81.35 h7.20 M57.30 72.18 h3.80 M255.10 72.18 h3.80 M57.30 63.01 h3.80 M255.10 63.01 h3.80 M57.30 53.84 h3.80 M255.10 53.84 h3.80 M57.30 44.67 h7.20 M255.10 44.67 h7.20 M57.30 35.51 h3.80 M255.10 35.51 h3.80 M57.30 26.34 h3.80 M255.10 26.34 h3.80 M57.30 17.17 h3.80 M255.10 17.17 h3.80 M57.30 8.00 h7.20 M255.10 8.00 h7.20 M57.30 300.80 h7.20 M255.10 300.80 h7.20 M57.30 291.67 h3.80 M255.10 291.67 h3.80 M57.30 282.54 h3.80 M255.10 282.54 h3.80 M57.30 273.41 h3.80 M255.10 273.41 h3.80 M57.30 264.27 h7.20 M255.10 264.27 h7.20 M57.30 255.14 h3.80 M255.10 255.14 h3.80 M57.30 246.01 h3.80 M255.10 246.01 h3.80 M57.30 236.88 h3.80 M255.10 236.88 h3.80 M57.30 227.75 h7.20 M255.10 227.75 h7.20 M57.30 218.62 h3.80 M255.10 218.62 h3.80 M57.30 209.49 h3.80 M255.10 209.49 h3.80 M57.30 200.36 h3.80 M255.10 200.36 h3.80 M57.30 191.22 h7.20 M255.10 191.22 h7.20 M57.30 182.09 h3.80 M255.10 182.09 h3.80 M57.30 172.96 h3.80 M255.10 172.96 h3.80 M57.30 163.83 h3.80 M255.10 163.83 h3.80 M57.30 154.70 h7.20 M255.10 154.70 h7.20 M62.04 154.70 v-3.30 M66.06 154.70 v-3.30 M69.53 154.70 v-3.30 M72.60 154.70 v-3.30 M75.34 154.70 v-6.80 M93.38 154.70 v-3.30 M103.93 154.70 v-3.30 M111.41 154.70 v-3.30 M117.22 154.70 v-3.30 M121.97 154.70 v-3.30 M125.98 154.70 v-3.30 M129.45 154.70 v-3.30 M132.52 154.70 v-3.30 M135.26 154.70 v-6.80 M153.30 154.70 v-3.30 M163.85 154.70 v-3.30 M171.33 154.70 v-3.30 M177.14 154.70 v-3.30 M181.89 154.70 v-3.30 M185.90 154.70 v-3.30 M189.37 154.70 v-3.30 M192.44 154.70 v-3.30 M195.18 154.70 v-6.80 M213.22 154.70 v-3.30 M223.77 154.70 v-3.30 M231.26 154.70 v-3.30 M237.06 154.70 v-3.30 M241.81 154.70 v-3.30 M245.82 154.70 v-3.30 M249.29 154.70 v-3.30 M252.36 154.70 v-3.30 M259.84 154.70 v-3.30 M263.85 154.70 v-3.30 M267.32 154.70 v-3.30 M270.38 154.70 v-3.30 M273.12 154.70 v-6.80 M291.14 154.70 v-3.30 M301.68 154.70 v-3.30 M309.16 154.70 v-3.30 M314.96 154.70 v-3.30 M319.70 154.70 v-3.30 M323.71 154.70 v-3.30 M327.18 154.70 v-3.30 M330.24 154.70 v-3.30 M332.98 154.70 v-6.80 M351.00 154.70 v-3.30 M361.54 154.70 v-3.30 M369.02 154.70 v-3.30 M374.82 154.70 v-3.30 M379.56 154.70 v-3.30 M383.57 154.70 v-3.30 M387.04 154.70 v-3.30 M390.10 154.70 v-3.30 M392.84 154.70 v-6.80 M410.86 154.70 v-3.30 M421.40 154.70 v-3.30 M428.88 154.70 v-3.30 M434.68 154.70 v-3.30 M439.42 154.70 v-3.30 M443.43 154.70 v-3.30 M446.90 154.70 v-3.30 M449.96 154.70 v-3.30 M62.04 300.80 v-3.30 M66.06 300.80 v-3.30 M69.53 300.80 v-3.30 M72.60 300.80 v-3.30 M75.34 300.80 v-6.80 M93.38 300.80 v-3.30 M103.93 300.80 v-3.30 M111.41 300.80 v-3.30 M117.22 300.80 v-3.30 M121.97 300.80 v-3.30 M125.98 300.80 v-3.30 M129.45 300.80 v-3.30 M132.52 300.80 v-3.30 M135.26 300.80 v-6.80 M153.30 300.80 v-3.30 M163.85 300.80 v-3.30 M171.33 300.80 v-3.30 M177.14 300.80 v-3.30 M181.89 300.80 v-3.30 M185.90 300.80 v-3.30 M189.37 300.80 v-3.30 M192.44 300.80 v-3.30 M195.18 300.80 v-6.80 M213.22 300.80 v-3.30 M223.77 300.80 v-3.30 M231.26 300.80 v-3.30 M237.06 300.80 v-3.30 M241.81 300.80 v-3.30 M245.82 300.80 v-3.30 M249.29 300.80 v-3.30 M252.36 300.80 v-3.30 M259.84 300.80 v-3.30 M263.85 300.80 v-3.30 M267.32 300.80 v-3.30 M270.38 300.80 v-3.30 M273.12 300.80 v-6.80 M291.14 300.80 v-3.30 M301.68 300.80 v-3.30 M309.16 300.80 v-3.30 M314.96 300.80 v-3.30 M319.70 300.80 v-3.30 M323.71 300.80 v-3.30 M327.18 300.80 v-3.30 M330.24 300.80 v-3.30 M332.98 300.80 v-6.80 M351.00 300.80 v-3.30 M361.54 300.80 v-3.30 M369.02 300.80 v-3.30 M374.82 300.80 v-3.30 M379.56 300.80 v-3.30 M383.57 300.80 v-3.30 M387.04 300.80 v-3.30 M390.10 300.80 v-3.30 M392.84 300.80 v-6.80 M410.86 300.80 v-3.30 M421.40 300.80 v-3.30 M428.88 300.80 v-3.30 M434.68 300.80 v-3.30 M439.42 300.80 v-3.30 M443.43 300.80 v-3.30 M446.90 300.80 v-3.30 M449.96 300.80 v-3.30" stroke="#000" stroke-width="1.35" fill="none"/>
<path d="M70 117.25 H108.2" stroke="#000" stroke-width="1.25"/>
<path d="M70 138.85 H108.2" stroke="#000" stroke-width="1.25" stroke-dasharray="6.1 2.8"/>
<path transform="translate(27.90 13.60) scale(0.01590 -0.01674)" d="M314 0V505H131V570C249 577 312 600 339 709H402V0Z" fill="#000"/>
<text transform="translate(36.74 13.60) scale(0.935 1)" font-family="'Liberation Sans', sans-serif" font-size="17.00px" text-anchor="start" fill="#000" stroke="#000" stroke-width="0.25">.4</text>
<path transform="translate(27.90 50.27) scale(0.01590 -0.01674)" d="M314 0V505H131V570C249 577 312 600 339 709H402V0Z" fill="#000"/>
<text transform="translate(36.74 50.27) scale(0.935 1)" font-family="'Liberation Sans', sans-serif" font-size="17.00px" text-anchor="start" fill="#000" stroke="#000" stroke-width="0.25">.2</text>
<path transform="translate(43.46 86.95) scale(0.01590 -0.01674)" d="M314 0V505H131V570C249 577 312 600 339 709H402V0Z" fill="#000"/>
<text transform="translate(27.90 123.62) scale(0.935 1)" font-family="'Liberation Sans', sans-serif" font-size="17.00px" text-anchor="start" fill="#000" stroke="#000" stroke-width="0.25">0.8</text>
<text transform="translate(27.90 160.30) scale(0.935 1)" font-family="'Liberation Sans', sans-serif" font-size="17.00px" text-anchor="start" fill="#000" stroke="#000" stroke-width="0.25">0.6</text>
<path transform="translate(27.90 196.82) scale(0.01590 -0.01674)" d="M314 0V505H131V570C249 577 312 600 339 709H402V0Z" fill="#000"/>
<text transform="translate(36.74 196.82) scale(0.935 1)" font-family="'Liberation Sans', sans-serif" font-size="17.00px" text-anchor="start" fill="#000" stroke="#000" stroke-width="0.25">.2</text>
<path transform="translate(43.46 233.35) scale(0.01590 -0.01674)" d="M314 0V505H131V570C249 577 312 600 339 709H402V0Z" fill="#000"/>
<text transform="translate(27.90 269.88) scale(0.935 1)" font-family="'Liberation Sans', sans-serif" font-size="17.00px" text-anchor="start" fill="#000" stroke="#000" stroke-width="0.25">0.8</text>
<text transform="translate(27.90 306.40) scale(0.935 1)" font-family="'Liberation Sans', sans-serif" font-size="17.00px" text-anchor="start" fill="#000" stroke="#000" stroke-width="0.25">0.6</text>
<text transform="translate(56.65 319.90) scale(0.935 1)" font-family="'Liberation Sans', sans-serif" font-size="17.00px" text-anchor="start" fill="#000" stroke="#000" stroke-width="0.25">0.00</text>
<path transform="translate(87.59 319.90) scale(0.01590 -0.01674)" d="M314 0V505H131V570C249 577 312 600 339 709H402V0Z" fill="#000"/>
<text transform="translate(120.99 319.90) scale(0.935 1)" font-family="'Liberation Sans', sans-serif" font-size="17.00px" text-anchor="start" fill="#000" stroke="#000" stroke-width="0.25">0.0</text>
<path transform="translate(143.09 319.90) scale(0.01590 -0.01674)" d="M314 0V505H131V570C249 577 312 600 339 709H402V0Z" fill="#000"/>
<text transform="translate(185.33 319.90) scale(0.935 1)" font-family="'Liberation Sans', sans-serif" font-size="17.00px" text-anchor="start" fill="#000" stroke="#000" stroke-width="0.25">0.</text>
<path transform="translate(198.59 319.90) scale(0.01590 -0.01674)" d="M314 0V505H131V570C249 577 312 600 339 709H402V0Z" fill="#000"/>
<text transform="translate(254.43 319.90) scale(0.935 1)" font-family="'Liberation Sans', sans-serif" font-size="17.00px" text-anchor="start" fill="#000" stroke="#000" stroke-width="0.25">0.00</text>
<path transform="translate(285.37 319.90) scale(0.01590 -0.01674)" d="M314 0V505H131V570C249 577 312 600 339 709H402V0Z" fill="#000"/>
<text transform="translate(318.71 319.90) scale(0.935 1)" font-family="'Liberation Sans', sans-serif" font-size="17.00px" text-anchor="start" fill="#000" stroke="#000" stroke-width="0.25">0.0</text>
<path transform="translate(340.81 319.90) scale(0.01590 -0.01674)" d="M314 0V505H131V570C249 577 312 600 339 709H402V0Z" fill="#000"/>
<text transform="translate(382.99 319.90) scale(0.935 1)" font-family="'Liberation Sans', sans-serif" font-size="17.00px" text-anchor="start" fill="#000" stroke="#000" stroke-width="0.25">0.</text>
<path transform="translate(396.25 319.90) scale(0.01590 -0.01674)" d="M314 0V505H131V570C249 577 312 600 339 709H402V0Z" fill="#000"/>
<path transform="translate(449.88 319.90) scale(0.01590 -0.01674)" d="M314 0V505H131V570C249 577 312 600 339 709H402V0Z" fill="#000"/>
<text transform="translate(205.60 31.90) scale(0.928 1)" font-family="'Liberation Sans', sans-serif" font-size="14.10px" text-anchor="start" fill="#000" stroke="#000" stroke-width="0.25">EPPS</text>
<text transform="translate(399.00 32.00) scale(0.947 1)" font-family="'Liberation Sans', sans-serif" font-size="14.10px" text-anchor="start" fill="#000" stroke="#000" stroke-width="0.25">nCTEQ</text>
<text transform="translate(204.90 290.30) scale(0.947 1)" font-family="'Liberation Sans', sans-serif" font-size="14.10px" text-anchor="start" fill="#000" stroke="#000" stroke-width="0.25">TUJU</text>
<text transform="translate(406.00 291.30) scale(0.928 1)" font-family="'Liberation Sans', sans-serif" font-size="14.10px" text-anchor="start" fill="#000" stroke="#000" stroke-width="0.25">nIMP</text>
<text transform="translate(117.10 121.80) scale(0.955 1)" font-family="'Liberation Sans', sans-serif" font-size="13.80px" text-anchor="start" fill="#000" stroke="#000" stroke-width="0.25">Q=15</text>
<text transform="translate(152.90 121.80) scale(1.000 1)" font-family="'Liberation Sans', sans-serif" font-size="10.50px" text-anchor="start" fill="#000" stroke="#000" stroke-width="0.25">GeV</text>
<text transform="translate(117.10 143.20) scale(0.955 1)" font-family="'Liberation Sans', sans-serif" font-size="13.80px" text-anchor="start" fill="#000" stroke="#000" stroke-width="0.25">Q=75</text>
<text transform="translate(152.90 143.20) scale(1.000 1)" font-family="'Liberation Sans', sans-serif" font-size="10.50px" text-anchor="start" fill="#000" stroke="#000" stroke-width="0.25">GeV</text>
<text transform="translate(71.20 33.00) scale(0.937 1)" font-family="'Liberation Sans', sans-serif" font-size="19.50px" text-anchor="start" fill="#ff12a2" stroke="#ff12a2" stroke-width="0.25">gluon</text>
<text transform="translate(156.50 337.60) scale(1.000 1)" font-family="'Liberation Serif', serif" font-size="23.00px" text-anchor="middle" fill="#000" stroke="#000" stroke-width="0.25" font-style="italic">x</text>
<text transform="translate(354.20 337.60) scale(1.000 1)" font-family="'Liberation Serif', serif" font-size="23.00px" text-anchor="middle" fill="#000" stroke="#000" stroke-width="0.25" font-style="italic">x</text>
<g transform="translate(0 108.40) rotate(-90)">
<text transform="translate(0.00 14.00) scale(0.920 1)" font-family="'Liberation Serif', serif" font-size="18.00px" text-anchor="start" fill="#000" stroke="#000" stroke-width="0.25" font-style="italic">r</text>
<text transform="translate(7.00 17.20) scale(0.930 1)" font-family="'Liberation Sans', sans-serif" font-size="13.50px" text-anchor="start" fill="#000" stroke="#000" stroke-width="0.25">g</text>
<text transform="translate(9.00 7.50) scale(0.890 1)" font-family="'Liberation Sans', sans-serif" font-size="8.10px" text-anchor="start" fill="#000" stroke="#000" stroke-width="0.25">Pb</text>
<text transform="translate(20.80 13.70) scale(0.850 1)" font-family="'Liberation Sans', sans-serif" font-size="15.00px" text-anchor="start" fill="#000" stroke="#000" stroke-width="0.25">(</text>
<text transform="translate(25.20 14.40) scale(1.000 1)" font-family="'Liberation Serif', serif" font-size="16.00px" text-anchor="start" fill="#000" stroke="#000" stroke-width="0.25" font-style="italic">x</text>
<text transform="translate(31.80 14.30) scale(1.000 1)" font-family="'Liberation Sans', sans-serif" font-size="13.00px" text-anchor="start" fill="#000" stroke="#000" stroke-width="0.25">,</text>
<text transform="translate(35.00 14.30) scale(1.000 1)" font-family="'Liberation Sans', sans-serif" font-size="13.00px" text-anchor="start" fill="#000" stroke="#000" stroke-width="0.25">Q</text>
<text transform="translate(45.90 8.80) scale(0.900 1)" font-family="'Liberation Sans', sans-serif" font-size="9.40px" text-anchor="start" fill="#000" stroke="#000" stroke-width="0.25">2</text>
<text transform="translate(51.80 13.70) scale(0.850 1)" font-family="'Liberation Sans', sans-serif" font-size="15.00px" text-anchor="start" fill="#000" stroke="#000" stroke-width="0.25">)</text>
</g>
<g transform="translate(0 254.40) rotate(-90)">
<text transform="translate(0.00 14.00) scale(0.920 1)" font-family="'Liberation Serif', serif" font-size="18.00px" text-anchor="start" fill="#000" stroke="#000" stroke-width="0.25" font-style="italic">r</text>
<text transform="translate(7.00 17.20) scale(0.930 1)" font-family="'Liberation Sans', sans-serif" font-size="13.50px" text-anchor="start" fill="#000" stroke="#000" stroke-width="0.25">g</text>
<text transform="translate(9.00 7.50) scale(0.890 1)" font-family="'Liberation Sans', sans-serif" font-size="8.10px" text-anchor="start" fill="#000" stroke="#000" stroke-width="0.25">Pb</text>
<text transform="translate(20.80 13.70) scale(0.850 1)" font-family="'Liberation Sans', sans-serif" font-size="15.00px" text-anchor="start" fill="#000" stroke="#000" stroke-width="0.25">(</text>
<text transform="translate(25.20 14.40) scale(1.000 1)" font-family="'Liberation Serif', serif" font-size="16.00px" text-anchor="start" fill="#000" stroke="#000" stroke-width="0.25" font-style="italic">x</text>
<text transform="translate(31.80 14.30) scale(1.000 1)" font-family="'Liberation Sans', sans-serif" font-size="13.00px" text-anchor="start" fill="#000" stroke="#000" stroke-width="0.25">,</text>
<text transform="translate(35.00 14.30) scale(1.000 1)" font-family="'Liberation Sans', sans-serif" font-size="13.00px" text-anchor="start" fill="#000" stroke="#000" stroke-width="0.25">Q</text>
<text transform="translate(45.90 8.80) scale(0.900 1)" font-family="'Liberation Sans', sans-serif" font-size="9.40px" text-anchor="start" fill="#000" stroke="#000" stroke-width="0.25">2</text>
<text transform="translate(51.80 13.70) scale(0.850 1)" font-family="'Liberation Sans', sans-serif" font-size="15.00px" text-anchor="start" fill="#000" stroke="#000" stroke-width="0.25">)</text>
</g>
</svg>
</body></html>
